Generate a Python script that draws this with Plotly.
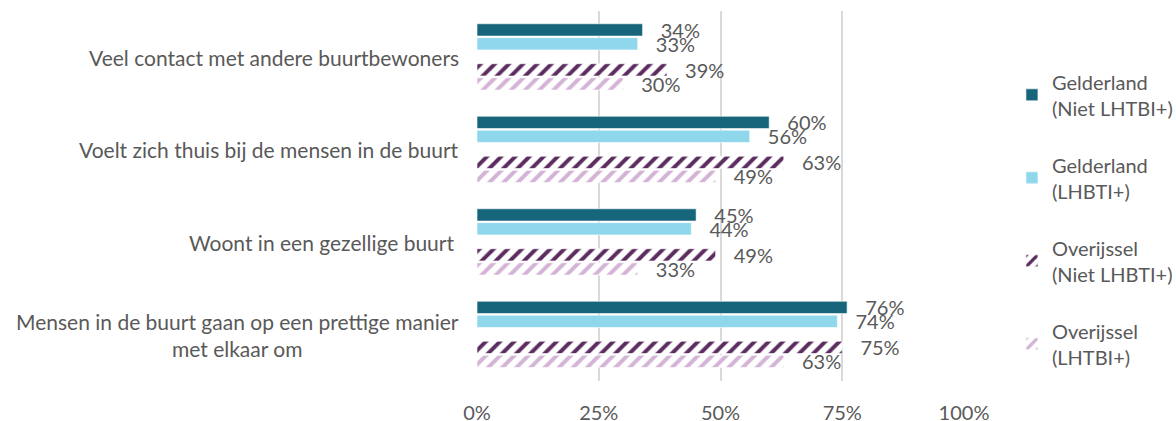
import plotly.graph_objects as go

categories = [
    "Veel contact met andere buurtbewoners",
    "Voelt zich thuis bij de mensen in de buurt",
    "Woont in een gezellige buurt ",
    "Mensen in de buurt gaan op een prettige manier<br>met elkaar om",
]
series_names = [
    "Gelderland<br>(Niet LHTBI+)",
    "Gelderland<br>(LHBTI+)",
    "Overijssel<br>(Niet LHBTI+)",
    "Overijssel<br>(LHTBI+)",
]
gelderland_niet = [0.34, 0.60, 0.45, 0.76]
gelderland_lhbti = [0.33, 0.56, 0.44, 0.74]
overijssel_niet = [0.39, 0.63, 0.49, 0.75]
overijssel_lhbti = [0.30, 0.49, 0.33, 0.63]
x_ticks = [0, 0.25, 0.5, 0.75, 1.0]
x_ticklabels = ["0%", "25%", "50%", "75%", "100%"]

values = [gelderland_niet, gelderland_lhbti, overijssel_niet, overijssel_lhbti]
colors = ["#17657a", "#8fd7ea", "#5b2d5f", "#d3b3d6"]
patterned = [False, False, True, True]
offsets = [-0.362, -0.212, 0.07, 0.222]
bar_w = 0.133

FONT = "Lato"
W = 400
GREY = "#595959"
cat_idx = list(range(len(categories)))

fig = go.Figure()
for name, vals, col, pat, off in zip(series_names, values, colors, patterned, offsets):
    marker = dict(color=col, line=dict(color="white", width=0.6))
    if pat:
        marker["pattern"] = dict(shape="/", fgcolor=col, bgcolor="white",
                                 size=10, solidity=0.4, fillmode="replace")
    fig.add_trace(go.Bar(
        x=vals, y=cat_idx, orientation="h", name=name,
        marker=marker, offset=off, width=bar_w,
        text=vals, texttemplate="\u2002\u00a0%{x:.0%}",
        textposition="outside", constraintext="none", cliponaxis=False,
        textfont=dict(family=FONT, size=20, color=GREY, weight=W),
        legendgroup=name,
    ))

annotations = []
for i, c in enumerate(categories):
    annotations.append(dict(
        x=0, xref="paper", y=i, yref="y", text=c, showarrow=False,
        xanchor="right", xshift=-16, align="center",
        font=dict(family=FONT, size=21, color=GREY, weight=W),
    ))

fig.update_layout(
    width=1176, height=421,
    margin=dict(l=477, r=212, t=11, b=40, autoexpand=False),
    paper_bgcolor="white", plot_bgcolor="white",
    barmode="overlay",
    font=dict(family=FONT, size=20, color=GREY, weight=W),
    xaxis=dict(range=[0, 1], tickvals=x_ticks, ticktext=x_ticklabels,
               showgrid=True, gridcolor="#d9d9d9", gridwidth=1.5,
               zeroline=False, showline=False, ticks="",
               ticklabelstandoff=18, automargin=False,
               tickfont=dict(family=FONT, size=20, color=GREY, weight=W)),
    yaxis=dict(range=[3.5, -0.5], showticklabels=False, showgrid=False,
               zeroline=False, showline=False, ticks="", automargin=False),
    legend=dict(xref="container", yref="container",
                x=0.8605, xanchor="left", y=0.852, yanchor="top",
                tracegroupgap=28, traceorder="grouped", maxheight=400,
                font=dict(family=FONT, size=20, color=GREY, weight=W),
                itemwidth=30),
    annotations=annotations,
    showlegend=True,
)

fig.write_html("out.html", config={"displayModeBar": False},
               post_script="document.body.style.margin='0';document.body.style.overflow='hidden';")
